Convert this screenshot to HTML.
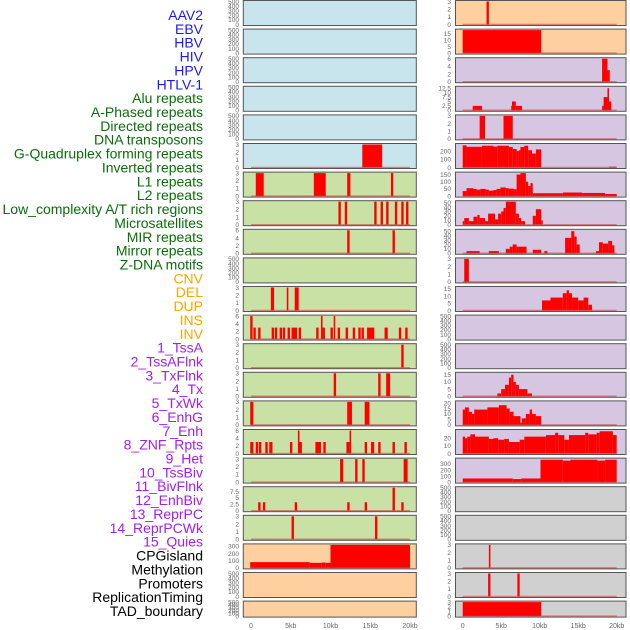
<!DOCTYPE html>
<html><head><meta charset="utf-8"><style>
body{margin:0;background:#fff;width:630px;height:630px;overflow:hidden}
svg{display:block;font-family:"Liberation Sans",sans-serif}
</style></head><body>
<svg id="c" width="630" height="630" viewBox="0 0 630 630"></svg>
<script>
const labelNames=["AAV2","EBV","HBV","HIV","HPV","HTLV-1","Alu repeats","A-Phased repeats","Directed repeats","DNA transposons","G-Quadruplex forming repeats","Inverted repeats","L1 repeats","L2 repeats","Low_complexity A/T rich regions","Microsatellites","MIR repeats","Mirror repeats","Z-DNA motifs","CNV","DEL","DUP","INS","INV","1_TssA","2_TssAFlnk","3_TxFlnk","4_Tx","5_TxWk","6_EnhG","7_Enh","8_ZNF_Rpts","9_Het","10_TssBiv","11_BivFlnk","12_EnhBiv","13_ReprPC","14_ReprPCWk","15_Quies","CPGisland","Methylation","Promoters","ReplicationTiming","TAD_boundary"];
const labelGroups=["v","v","v","v","v","v","r","r","r","r","r","r","r","r","r","r","r","r","r","s","s","s","s","s","c","c","c","c","c","c","c","c","c","c","c","c","c","c","c","o","o","o","o","o"];
const groupText={v:"#1a1aff",r:"#0a6e0a",s:"#ffa500",c:"#a020f0",o:"#000"};
const groupBg={v:"#c8e4ec",r:"#c9e1a5",s:"#fecf9f",c:"#d6c6e2",o:"#d0d0d0"};
const E=[0,100,200,300,400,500];
const T3=[0,1,2,3];
const yTicks=[E,E,E,E,E,T3,T3,T3,[0,2,4,6],E,T3,[0,2,4,6],T3,T3,T3,[0,2,4,6],T3,[0,2.5,5,7.5],T3,[0,100,200,300],E,E,
 T3,[0,5,10,15],[0,2,4,6],[0,2.5,5,7.5,10,12.5],T3,[0,100,200],[0,50,100,150],[0,10,20,30,40,50],[0,10,20,30,40,50],T3,[0,5,10,15],E,E,[0,5,10,15],[0,5,10,15,20],[0,10,20],[0,100,200,300],E,E,T3,T3,T3];
const yMax=[500,500,500,500,500,3,3,3,6,500,3,6,3,3,3,6,3,9,3,320,500,500,
 3,18,6,13,3,280,160,52,52,3,16,500,500,16,21,30,380,500,500,3,3,3];
const segs=[[],[],[],[],[],[[14,16.5,3]],
[[0.6,1.6,3],[7.9,9.4,3],[12.1,12.5,3],[17.6,17.9,3]],
[[11.0,11.3,3],[11.8,12.1,3],[15.5,15.8,3],[16.3,16.6,3],[17.0,17.3,3],[18.1,18.4,3],[18.9,19.2,3],[19.5,19.8,3]],
[[12.1,12.4,6],[17.8,18.1,6]],
[],
[[2.5,2.9,3],[4.5,4.7,3],[5.5,6.0,3]],
[[-0.1,0.2,6],[0.3,0.6,3],[0.9,1.2,3],[2.6,2.9,3],[3.0,3.3,3],[3.6,3.9,3],[4.0,4.3,3],[4.6,4.9,3],[5.1,5.8,3],[6.0,6.3,3],[8.2,8.5,3],[8.8,9.0,6],[9.0,9.3,3],[10.0,10.3,3],[10.4,10.6,6],[10.9,11.2,3],[11.9,12.2,3],[12.8,13.1,3],[13.5,13.8,3],[13.9,14.2,3],[14.6,15.5,3],[16.8,17.2,3],[18.6,18.9,3],[19.4,19.7,3]],
[[18.9,19.2,3]],
[[10.4,10.7,3],[16.0,16.3,3],[17.0,17.5,3]],
[[-0.1,0.3,3],[12.1,12.7,3],[14.3,14.9,3]],
[[-0.1,0.3,3],[0.6,0.9,3],[1.0,1.3,3],[1.8,2.1,3],[2.3,2.7,3],[4.9,5.2,3],[5.9,6.1,6],[6.1,6.4,3],[8.1,8.8,3],[9.1,9.4,3],[12.0,12.4,3],[12.4,12.6,6],[14.3,14.6,3],[15.1,15.5,3],[16.0,16.3,3],[17.8,18.1,3],[19.3,19.6,3]],
[[11.2,11.6,3],[13.1,13.4,3],[14.0,14.3,3],[19.2,19.7,3]],
[[0.9,1.2,3.3],[1.5,1.8,3.3],[5.5,5.8,3.3],[12.1,12.4,3.3],[14.3,14.6,3.3],[17.8,18.1,9],[18.9,19.2,3.3]],
[[5.1,5.4,3],[15.6,15.9,3]],
[[-0.1,7.4,80],[7.4,8.9,70],[8.9,9.4,75],[9.4,10,70],[10,20,330]],
[],[],
[[3.1,3.4,3]],
[[0,10.2,18]],
[[18.1,18.8,6],[18.8,19.1,3]],
[[1.3,2.5,2.5],[6.3,6.4,2.5],[6.4,6.9,5],[6.9,7.7,2.5],[18.1,18.3,2.5],[18.3,18.8,7.5],[18.8,19.0,12.5],[19.0,19.3,5]],
[[2.2,2.9,3],[5.3,6.5,3]],
[[0,0.5,270],[0.5,2.5,252],[2.5,4,265],[4,4.5,255],[4.5,6,265],[6,6.5,250],[6.5,7,225],[7,7.3,200],[7.3,7.5,210],[7.5,8,250],[8,8.5,265],[8.5,9,210],[9,9.5,170],[9.5,10.2,220],[19,20,10]],
[[0,0.5,35],[0.5,1.4,55],[1.4,1.8,50],[1.8,2.3,45],[2.3,3.0,50],[3.0,3.4,45],[3.4,4.0,38],[4.0,4.4,42],[4.4,4.9,50],[4.9,5.6,60],[5.6,6.0,55],[6.0,6.6,52],[6.6,7.0,48],[7.0,7.5,150],[7.5,8.2,160],[8.2,8.5,100],[8.5,8.8,70],[8.8,9.1,90],[9.1,13.0,20],[13.0,15.5,25],[15.5,18.5,22],[18.5,20,15]],
[[0,0.2,8],[0.2,0.8,15],[0.8,1.4,8],[1.4,1.9,18],[1.9,2.2,22],[2.2,2.9,15],[2.9,3.3,8],[3.3,4.2,25],[4.2,4.6,12],[4.6,5.0,25],[5.0,5.3,30],[5.3,5.6,38],[5.6,6.9,55],[6.9,7.3,25],[7.3,7.6,15],[7.6,8.1,8],[9.1,9.5,20],[9.5,10.2,35],[10.2,10.4,10]],
[[0.5,2.2,5],[3.4,4.7,5],[5.6,6.1,10],[6.1,6.5,15],[6.5,7.0,20],[7.0,7.3,15],[7.3,8.3,15],[9.1,9.7,8],[9.7,10.2,8],[10.6,11.0,5],[13.3,13.8,35],[13.8,14.1,35],[14.1,14.5,50],[14.5,14.8,38],[14.8,15.2,20],[17.3,17.7,5],[17.7,18.2,25],[18.2,18.9,22],[18.9,19.4,28],[19.4,19.7,18]],
[[0.2,0.8,3]],
[[10.3,11.4,7],[11.4,13.0,9],[13.0,13.5,12],[13.5,13.8,14],[13.8,14.2,12],[14.2,15.0,9],[15.0,15.7,7],[15.7,16.3,9],[16.3,16.8,4]],
[],[],
[[4.5,5.0,2],[5.0,5.5,5],[5.5,6.0,8],[6.0,6.3,13],[6.3,6.6,15],[6.6,6.9,10],[6.9,7.3,8],[7.3,8.4,5],[8.4,9.0,2]],
[[0,0.3,14],[0.3,0.8,16],[0.8,1.2,12],[1.2,1.5,10],[1.5,3.2,14],[3.2,4.7,16],[4.7,5.7,18],[5.7,6.1,15],[6.1,6.6,12],[6.6,7.5,8],[7.5,7.7,2],[7.7,8.2,6],[8.2,8.7,10],[8.7,9.0,14],[9.0,9.5,10],[9.5,10.2,8]],
[[0,0.3,22],[0.3,0.6,20],[0.6,1.0,22],[1.0,1.6,25],[1.6,3.4,22],[3.4,4.0,19],[4.0,4.6,20],[4.6,5.4,18],[5.4,6.0,19],[6.0,7.4,15],[7.4,8.0,18],[8.0,10.8,22],[10.8,12.0,24],[12.0,12.4,27],[12.4,13.2,24],[13.2,13.8,18],[13.8,15.9,24],[15.9,16.3,27],[16.3,17.4,25],[17.4,17.8,27],[17.8,19.5,29],[19.5,20,24]],
[[0,6.5,60],[6.5,7.6,50],[7.6,10.1,60],[10.1,13,370],[13,14,355],[14,17.5,370],[17.5,18.5,355],[18.5,20,370]],
[],[],
[[3.4,3.6,3]],
[[3.3,3.6,3],[7.1,7.4,3]],
[[0,10.2,3]]
];
const xTickVals=[0,5,10,15,20];
const xTickText=["0","5kb","10kb","15kb","20kb"];
const NS="http://www.w3.org/2000/svg";
const svg=document.getElementById('c');
function mk(t,a,p){const e=document.createElementNS(NS,t);for(const k in a)e.setAttribute(k,a[k]);(p||svg).appendChild(e);return e;}
const cols=[{x0:243.3,x1:416.3,zero:251,scale:7.95,tickRight:239},{x0:455.5,x1:626,zero:462.7,scale:7.7,tickRight:451}];
// labels
labelNames.forEach((n,i)=>{
 const t=mk('text',{x:203,y:15+i*13.86+5,'text-anchor':'end','font-size':14,fill:groupText[labelGroups[i]]});
 t.textContent=n;
 
 
});
labelNames.forEach((n,i)=>{
 const ci=i<22?0:1, r=i%22, c=cols[ci];
 const top=r*28.6+0.5, h=r===21?16:25, bot=top+h-1;
 const ymax=yMax[i];
 const X=k=>c.zero+k*c.scale;
 const Y=v=>bot-Math.min(v,ymax)/ymax*(h-2);
 const g=mk('g',{});
 
 
 mk('rect',{x:c.x0,y:top,width:c.x1-c.x0,height:h,fill:groupBg[labelGroups[i]],stroke:'#555','stroke-width':1},g);
 segs[i].forEach(s=>{
  const b=mk('rect',{x:X(s[0]),y:Y(s[2]),width:Math.max(1.5,X(s[1])-X(s[0])),height:bot-Y(s[2]),fill:'#ff0000'},g);
  
  
 });
 if(yTicks[i]!==E) mk('line',{x1:X(0),x2:X(20),y1:bot,y2:bot,stroke:'rgba(200,60,60,0.55)','stroke-width':1.5},g);
 yTicks[i].forEach(v=>{
  const yy=bot-v/ymax*(h-2);
  const t=mk('text',{x:c.tickRight,y:yy+2.3,'text-anchor':'end','font-size':6.5,fill:'#666'},g);
  t.textContent=v;
 });
});
cols.forEach((c,ci)=>{
 xTickVals.forEach((v,j)=>{
  const t=mk('text',{x:c.zero+v*c.scale,y:628,'text-anchor':'middle','font-size':7,fill:'#666'});
  t.textContent=xTickText[j];
  
  
 });
});
</script>
</body></html>
